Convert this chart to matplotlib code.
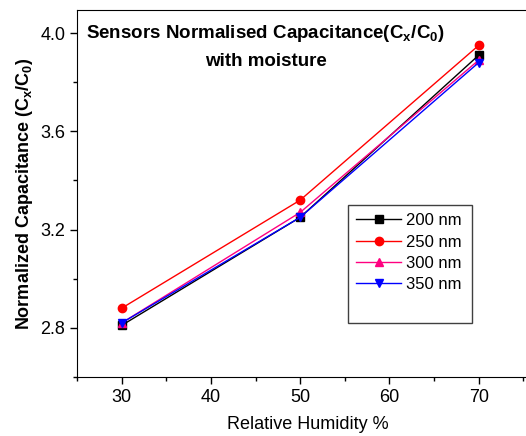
import matplotlib.pyplot as plt
from matplotlib.ticker import MultipleLocator
from matplotlib.patches import Rectangle

plt.rcParams['font.family'] = ['Liberation Sans', 'DejaVu Sans']
plt.rcParams['mathtext.fontset'] = 'custom'
plt.rcParams['mathtext.rm'] = 'Liberation Sans'
plt.rcParams['mathtext.bf'] = 'Liberation Sans:bold'

humidity = [30, 50, 70]
cap_200 = [2.81, 3.25, 3.91]
cap_250 = [2.88, 3.32, 3.95]
cap_300 = [2.82, 3.27, 3.89]
cap_350 = [2.82, 3.25, 3.88]

labels = ["200 nm", "250 nm", "300 nm", "350 nm"]
colors = ["black", "red", "#ff0080", "blue"]
markers = ["s", "o", "^", "v"]

fig = plt.figure(figsize=(5.26, 4.36), dpi=100)
ax = fig.add_axes([77 / 526, 59 / 436, 449 / 526, 367 / 436])

for ys, lab, col, mk in zip([cap_200, cap_250, cap_300, cap_350], labels, colors, markers):
    ax.plot(humidity, ys, color=col, marker=mk, markersize=6, linewidth=1, label=lab)

ax.set_xlim(25, 75.3)
ax.set_ylim(2.6, 4.094)
ax.xaxis.set_major_locator(MultipleLocator(10))
ax.xaxis.set_minor_locator(MultipleLocator(5))
ax.yaxis.set_major_locator(MultipleLocator(0.4))
ax.yaxis.set_minor_locator(MultipleLocator(0.2))
ax.yaxis.set_major_formatter(plt.FormatStrFormatter('%.1f'))
ax.tick_params(which='major', length=5, width=1, labelsize=13)
ax.tick_params(which='minor', length=3, width=1)
ax.spines['right'].set_visible(False)

ax.set_xlabel("Relative Humidity %", fontsize=13)
ax.xaxis.set_label_coords(0.515, -0.105)
ax.set_ylabel(r"Normalized Capacitance (C$_\mathbf{x}$/C$_\mathbf{0}$)",
              fontsize=13, fontweight='bold', labelpad=4)

ax.text(0.42, 0.935, r"Sensors Normalised Capacitance(C$_\mathbf{x}$/C$_\mathbf{0}$)",
        transform=ax.transAxes, ha='center', va='center', fontsize=13.5, fontweight='bold')
ax.text(0.42, 0.86, "with moisture", transform=ax.transAxes,
        ha='center', va='center', fontsize=13.5, fontweight='bold')

# legend box is taller than its entries, so draw the frame separately
ax.add_patch(Rectangle((0.6036, 0.147), 0.276, 0.322, transform=ax.transAxes,
                       fill=False, edgecolor='#404040', linewidth=1, zorder=5))
ax.legend(loc='upper left', bbox_to_anchor=(0.6036, 0.469), fontsize=12,
          frameon=False, handlelength=2.7, labelspacing=0.38,
          borderpad=0.5, borderaxespad=0, handletextpad=0.3)

fig.savefig("out.png", dpi=100)
